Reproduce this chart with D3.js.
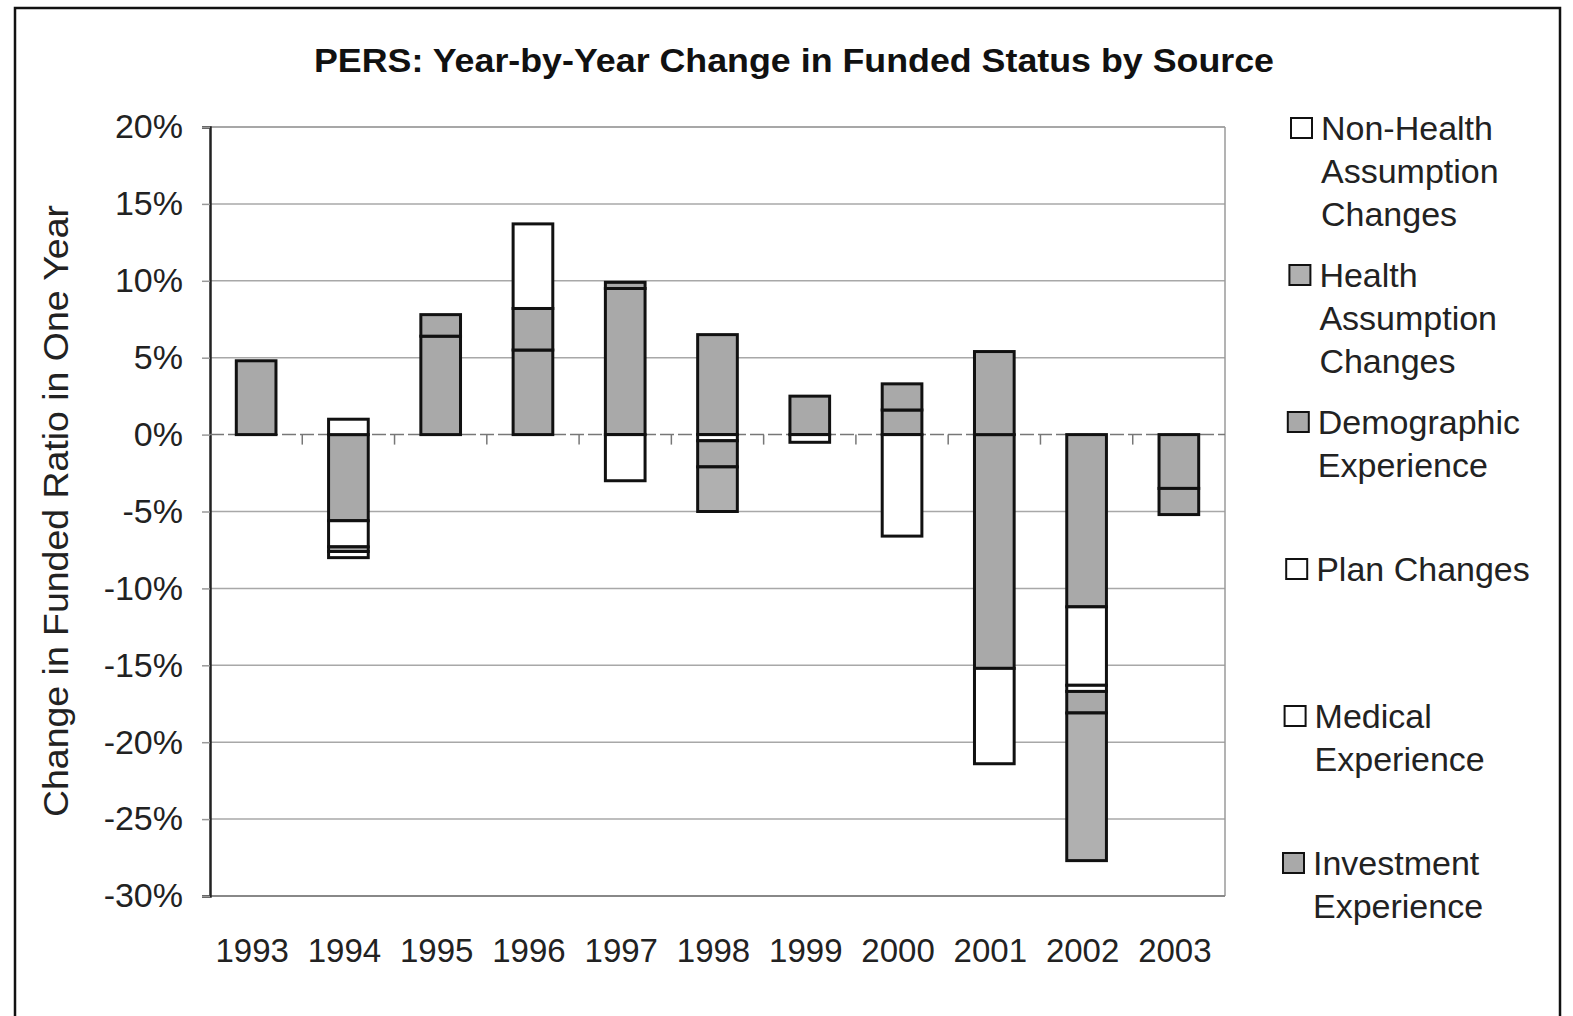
<!DOCTYPE html>
<html>
<head>
<meta charset="utf-8">
<script src="https://cdn.jsdelivr.net/npm/d3@7"></script>
<style>
  html, body { margin: 0; padding: 0; background: #fff; }
  svg { display: block; font-family: "Liberation Sans", Arial, sans-serif; }
</style>
</head>
<body>
<svg id="chart" width="1573" height="1016"></svg>
<script>
// ---- data ----
const years = ["1993","1994","1995","1996","1997","1998","1999","2000","2001","2002","2003"];
// stack order (first = nearest zero)
const seriesKeys = ["Investment Experience","Medical Experience","Plan Changes","Demographic Experience","Health Assumption Changes","Non-Health Assumption Changes"];
const investment  = [4.8, -5.6, 6.4, 5.5, 9.5, 6.5, 2.5, 1.6, -15.2, -11.2, -3.5];
const medical     = [0, 1.0, 0, 0, -3.0, -0.4, -0.5, -6.6, -6.2, -5.1, 0];
const plan        = [0, -1.7, 0, 0, 0, 0, 0, 0, 0, -0.4, 0];
const demographic = [0, -0.3, 1.4, 2.7, 0.4, -1.7, 0, 1.7, 5.4, -1.4, -1.7];
const health      = [0, 0, 0, 0, 0, -2.9, 0, 0, 0, -9.6, 0];
const nonHealth   = [0, -0.4, 0, 5.5, 0, 0, 0, 0, 0, 0, 0];
const yTicks = [20, 15, 10, 5, 0, -5, -10, -15, -20, -25, -30];
const legendLabels = [
  ["Non-Health", "Assumption", "Changes"],
  ["Health", "Assumption", "Changes"],
  ["Demographic", "Experience"],
  ["Plan Changes"],
  ["Medical", "Experience"],
  ["Investment", "Experience"]
];
const legendKeys = ["Non-Health Assumption Changes","Health Assumption Changes","Demographic Experience","Plan Changes","Medical Experience","Investment Experience"];
const fills = {
  "Investment Experience": "#a9a9a9",
  "Medical Experience": "#ffffff",
  "Plan Changes": "#ffffff",
  "Demographic Experience": "#a9a9a9",
  "Health Assumption Changes": "#b0b0b0",
  "Non-Health Assumption Changes": "#ffffff"
};

const seriesValues = {
  "Investment Experience": investment,
  "Medical Experience": medical,
  "Plan Changes": plan,
  "Demographic Experience": demographic,
  "Health Assumption Changes": health,
  "Non-Health Assumption Changes": nonHealth
};
const table = years.map((y, i) => {
  const row = { year: y };
  seriesKeys.forEach(k => row[k] = seriesValues[k][i]);
  return row;
});

// ---- layout ----
const svg = d3.select("#chart");
const plot = { left: 210, right: 1225, top: 127, bottom: 896 };

// outer frame
svg.append("rect").attr("x", 15).attr("y", 8).attr("width", 1545).attr("height", 1030)
  .attr("fill", "none").attr("stroke", "#111").attr("stroke-width", 2.5);

// title
svg.append("text").attr("x", 794).attr("y", 72).attr("text-anchor", "middle")
  .attr("font-size", 34).attr("font-weight", "bold").attr("fill", "#111")
  .attr("textLength", 960).attr("lengthAdjust", "spacingAndGlyphs")
  .text("PERS: Year-by-Year Change in Funded Status by Source");

const x = d3.scaleBand().domain(years).range([plot.left, plot.right]).padding(0);
const y = d3.scaleLinear().domain([-30, 20]).range([plot.bottom, plot.top]);
const barW = x.bandwidth() * 0.43;

// gridlines
svg.append("g").selectAll("line").data(yTicks.filter(t => t !== 0 && t !== -30 && t !== 20)).join("line")
  .attr("x1", plot.left).attr("x2", plot.right)
  .attr("y1", d => y(d)).attr("y2", d => y(d))
  .attr("stroke", "#a8a8a8").attr("stroke-width", 1.5);

// plot frame (top, right, bottom gray)
svg.append("line").attr("x1", plot.left).attr("x2", plot.right).attr("y1", y(20)).attr("y2", y(20))
  .attr("stroke", "#8a8a8a").attr("stroke-width", 1.5);
svg.append("line").attr("x1", plot.right).attr("x2", plot.right).attr("y1", y(20)).attr("y2", y(-30))
  .attr("stroke", "#9a9a9a").attr("stroke-width", 1.5);
svg.append("line").attr("x1", plot.left).attr("x2", plot.right).attr("y1", y(-30)).attr("y2", y(-30))
  .attr("stroke", "#888").attr("stroke-width", 2);

// y axis
const yAxis = d3.axisLeft(y).tickValues(yTicks).tickSize(8).tickFormat(d => d + "%");
const gy = svg.append("g").attr("transform", `translate(${plot.left},0)`).call(yAxis);
gy.select(".domain").attr("stroke", "#222").attr("stroke-width", 2.5);
gy.selectAll(".tick line").attr("stroke", "#999").attr("stroke-width", 1.5);
gy.selectAll(".tick text").attr("font-size", 34).attr("fill", "#222").attr("x", -27)
  .attr("font-family", "\"Liberation Sans\", Arial, sans-serif");

// zero axis with category ticks
const gx0 = svg.append("g").attr("transform", `translate(0,${y(0)})`);
gx0.append("line").attr("x1", plot.left).attr("x2", plot.right).attr("y1", 0).attr("y2", 0)
  .attr("stroke", "#777").attr("stroke-width", 1.5).attr("stroke-dasharray", "14,4");
gx0.selectAll("line.cat").data(years.slice(1)).join("line").attr("class", "cat")
  .attr("x1", d => x(d)).attr("x2", d => x(d)).attr("y1", 0).attr("y2", 10)
  .attr("stroke", "#777").attr("stroke-width", 1.5);

// bars
const stacked = d3.stack().keys(seriesKeys).offset(d3.stackOffsetDiverging)(table);
const gBars = svg.append("g");
stacked.forEach(layer => {
  gBars.append("g").selectAll("rect").data(layer.filter(d => d[1] - d[0] !== 0)).join("rect")
    .attr("x", d => x(d.data.year) + (x.bandwidth() - barW) / 2)
    .attr("width", barW)
    .attr("y", d => y(Math.max(d[0], d[1])))
    .attr("height", d => Math.abs(y(d[0]) - y(d[1])))
    .attr("fill", fills[layer.key])
    .attr("stroke", "#111").attr("stroke-width", 3);
});

// x labels at bottom
const xAxis = d3.axisBottom(x).tickSize(0);
const gx = svg.append("g").attr("transform", `translate(-4,${plot.bottom})`).call(xAxis);
gx.select(".domain").remove();
gx.selectAll(".tick text").attr("font-size", 33).attr("fill", "#222").attr("dy", 0).attr("y", 66)
  .attr("font-family", "\"Liberation Sans\", Arial, sans-serif");

// y axis title
svg.append("text").attr("transform", `translate(68,511) rotate(-90)`).attr("text-anchor", "middle")
  .attr("font-size", 35).attr("fill", "#222")
  .attr("textLength", 612).attr("lengthAdjust", "spacingAndGlyphs")
  .text("Change in Funded Ratio in One Year");

// legend
const gLeg = svg.append("g");
legendKeys.forEach((k, i) => {
  const cy = 128 + i * 147;
  const lx = 1291 - i * 1.6;
  gLeg.append("rect").attr("x", lx).attr("y", cy - 10).attr("width", 21).attr("height", 20)
    .attr("fill", fills[k]).attr("stroke", "#111").attr("stroke-width", 2);
  legendLabels[i].forEach((line, j) => {
    gLeg.append("text").attr("x", lx + 30).attr("y", cy + 12 + j * 43)
      .attr("font-size", 34).attr("fill", "#222").text(line);
  });
});
</script>
</body>
</html>
